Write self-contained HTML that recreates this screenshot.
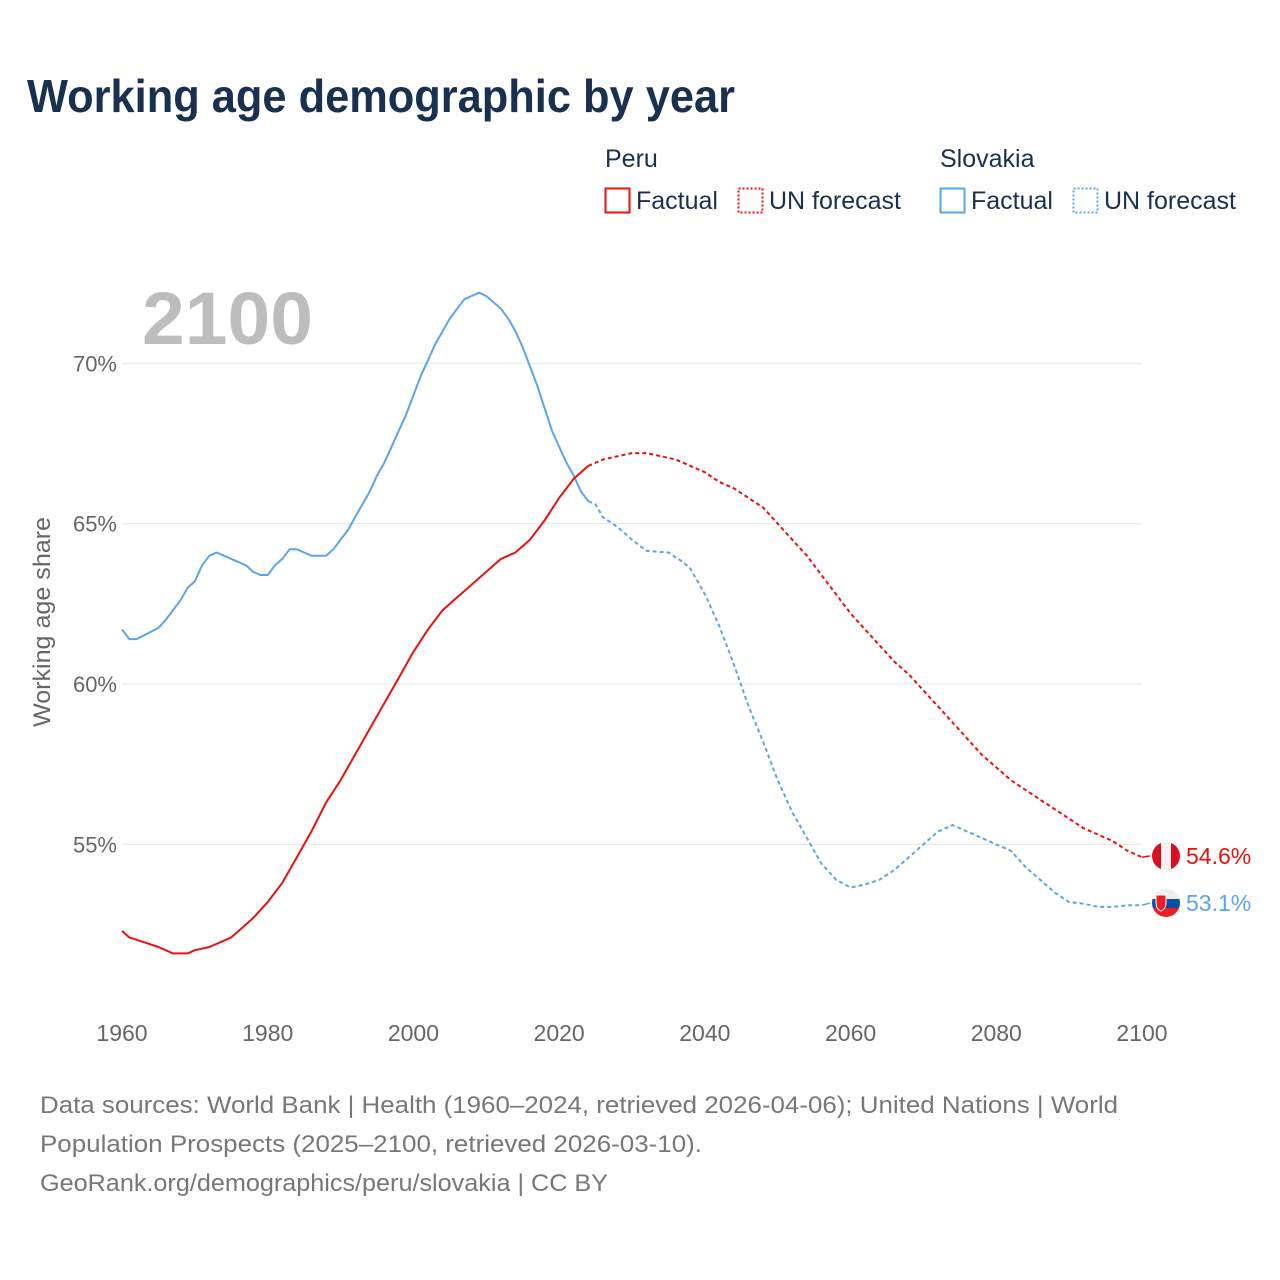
<!DOCTYPE html>
<html><head><meta charset="utf-8">
<style>
body{margin:0;background:#fff;font-family:"Liberation Sans",sans-serif;}
#wrap{position:relative;width:1280px;height:1280px;overflow:hidden;}
</style></head>
<body>
<div id="wrap">
<svg id="chart" width="1280" height="1280">
<defs><clipPath id="sc"><circle cx="1166" cy="903" r="14"/></clipPath></defs>
<text x="27" y="112" font-size="46" font-weight="bold" fill="#1a3050" textLength="708" lengthAdjust="spacingAndGlyphs">Working age demographic by year</text>
<g font-size="25" fill="#1a3050">
<text x="605" y="167">Peru</text>
<text x="940" y="167">Slovakia</text>
<g><rect x="605.5" y="188.5" width="24" height="24" fill="none" stroke="#e8110f" stroke-width="2"/><text x="636" y="209">Factual</text></g>
<g><rect x="738.5" y="188.5" width="24" height="24" fill="none" stroke="#e8110f" stroke-width="2" stroke-dasharray="2,2"/><text x="769" y="209">UN forecast</text></g>
<g><rect x="940.5" y="188.5" width="24" height="24" fill="none" stroke="#5ba4e8" stroke-width="2"/><text x="971" y="209">Factual</text></g>
<g><rect x="1073.5" y="188.5" width="24" height="24" fill="none" stroke="#5ba4e8" stroke-width="2" stroke-dasharray="2,2"/><text x="1104" y="209">UN forecast</text></g>
</g>
<text x="142" y="344" font-size="74" font-weight="bold" fill="#bdbdbd" textLength="171" lengthAdjust="spacingAndGlyphs">2100</text>
<g id="grid"></g>
<g id="yticks"></g>
<g id="xticks"></g>
<text transform="translate(50,622) rotate(-90)" text-anchor="middle" font-size="24" fill="#666" textLength="210" lengthAdjust="spacingAndGlyphs">Working age share</text>
<g id="series"></g>
<g font-size="24" fill="#777">
<text x="40" y="1113" textLength="1078" lengthAdjust="spacingAndGlyphs">Data sources: World Bank | Health (1960–2024, retrieved 2026-04-06); United Nations | World</text>
<text x="40" y="1152" textLength="662" lengthAdjust="spacingAndGlyphs">Population Prospects (2025–2100, retrieved 2026-03-10).</text>
<text x="40" y="1191" textLength="568" lengthAdjust="spacingAndGlyphs">GeoRank.org/demographics/peru/slovakia | CC BY</text>
</g>
</svg>
</div>
<script>
const yTicks=[55,60,65,70];
const xTicks=[1960,1980,2000,2020,2040,2060,2080,2100];
const peruFactYears=[1960,1961,1963,1965,1967,1969,1970,1972,1975,1978,1980,1982,1984,1986,1988,1990,1992,1994,1996,1998,2000,2002,2004,2006,2008,2010,2012,2014,2016,2018,2020,2022,2024];
const peruFactVals=[52.3,52.1,51.95,51.8,51.6,51.6,51.7,51.8,52.1,52.7,53.2,53.8,54.6,55.4,56.3,57.0,57.8,58.6,59.4,60.2,61.0,61.7,62.3,62.7,63.1,63.5,63.9,64.1,64.5,65.1,65.8,66.4,66.8];
const peruFcYears=[2024,2026,2028,2030,2032,2034,2036,2038,2040,2042,2044,2046,2048,2050,2052,2054,2056,2058,2060,2062,2064,2066,2068,2070,2072,2074,2076,2078,2080,2082,2084,2086,2088,2090,2092,2094,2096,2098,2100];
const peruFcVals=[66.8,67.0,67.1,67.2,67.2,67.1,67.0,66.8,66.6,66.3,66.1,65.8,65.5,65.0,64.5,64.0,63.4,62.8,62.2,61.7,61.2,60.7,60.3,59.8,59.3,58.8,58.3,57.8,57.4,57.0,56.7,56.4,56.1,55.8,55.5,55.3,55.1,54.8,54.6];
const svkFactYears=[1960,1961,1962,1965,1966,1967,1968,1969,1970,1971,1972,1973,1974,1975,1976,1977,1978,1979,1980,1981,1982,1983,1984,1985,1986,1987,1988,1989,1990,1991,1992,1993,1994,1995,1996,1997,1998,1999,2000,2001,2002,2003,2004,2005,2006,2007,2008,2009,2010,2011,2012,2013,2014,2015,2016,2017,2018,2019,2020,2021,2022,2023,2024];
const svkFactVals=[61.7,61.4,61.4,61.75,62.0,62.3,62.6,63.0,63.2,63.7,64.0,64.1,64.0,63.9,63.8,63.7,63.5,63.4,63.4,63.7,63.9,64.2,64.2,64.1,64.0,64.0,64.0,64.2,64.5,64.8,65.2,65.6,66.0,66.5,66.9,67.4,67.9,68.4,69.0,69.6,70.1,70.6,71.0,71.4,71.7,72.0,72.1,72.2,72.1,71.9,71.7,71.4,71.0,70.5,69.9,69.3,68.6,67.9,67.4,66.9,66.5,66.0,65.7];
const svkFcYears=[2024,2025,2026,2028,2030,2032,2035,2037,2038,2040,2042,2044,2046,2048,2050,2052,2054,2056,2058,2060,2062,2064,2066,2068,2070,2072,2074,2076,2078,2080,2082,2084,2086,2088,2090,2092,2094,2096,2098,2100];
const svkFcVals=[65.7,65.6,65.2,64.9,64.5,64.15,64.1,63.8,63.6,62.8,61.8,60.6,59.3,58.2,57.0,56.0,55.2,54.4,53.9,53.65,53.75,53.9,54.2,54.6,55.0,55.4,55.6,55.4,55.2,55.0,54.8,54.3,53.9,53.5,53.2,53.15,53.05,53.05,53.1,53.1];

const NS="http://www.w3.org/2000/svg";
const X=y=>122+(y-1960)*(1020/140);
const Y=v=>684-(v-60)*32.07;
function mk(tag,attrs,parent){const e=document.createElementNS(NS,tag);for(const k in attrs)e.setAttribute(k,attrs[k]);parent.appendChild(e);return e;}
const grid=document.getElementById('grid'),yt=document.getElementById('yticks'),xt=document.getElementById('xticks'),ser=document.getElementById('series');
yTicks.forEach(v=>{
  const l=mk('line',{x1:122,x2:1142,y1:Y(v),y2:Y(v),stroke:'#e6e6e6','stroke-width':1},grid);
  
  
  const t=mk('text',{x:117,y:Y(v)+8,'text-anchor':'end','font-size':22,fill:'#666'},yt);
  t.textContent=v+'%';
  
  
});
xTicks.forEach(v=>{
  const t=mk('text',{x:X(v),y:1041,'text-anchor':'middle','font-size':23,fill:'#666'},xt);
  t.textContent=v;
  
  
});
function line(ys,vs,color,dash,name){
  const d=ys.map((y,i)=>(i?'L':'M')+X(y).toFixed(1)+','+Y(vs[i]).toFixed(1)).join('');
  const p=mk('path',{d:d,fill:'none',stroke:color,'stroke-width':2,'stroke-linejoin':'round'},ser);
  if(dash)p.setAttribute('stroke-dasharray',dash);
  
  
}
line(svkFactYears,svkFactVals,'#5ba4e8',null,'slovakia-factual-line');
line(svkFcYears,svkFcVals,'#5ba4e8','4,3','slovakia-forecast-line');
line(peruFactYears,peruFactVals,'#e8110f',null,'peru-factual-line');
line(peruFcYears,peruFcVals,'#e8110f','4,3','peru-forecast-line');
const pEnd=peruFcVals[peruFcVals.length-1], sEnd=svkFcVals[svkFcVals.length-1];
const py=856, sy=903;
mk('line',{x1:X(2100),y1:Y(pEnd),x2:1150,y2:py,stroke:'#e8110f','stroke-width':1.5},ser);
mk('line',{x1:X(2100),y1:Y(sEnd),x2:1150,y2:sy,stroke:'#5ba4e8','stroke-width':1.5},ser);
const fp=mk('g',{},ser);


mk('circle',{cx:1166,cy:py,r:14,fill:'#d91023'},fp);
mk('rect',{x:1161,y:py-14,width:10,height:28,fill:'#f2f2f2'},fp);
const fs=mk('g',{'clip-path':'url(#sc)'},ser);


mk('rect',{x:1152,y:sy-14,width:28,height:10,fill:'#eeeeee'},fs);
mk('rect',{x:1152,y:sy-4,width:28,height:9,fill:'#0b4ea2'},fs);
mk('rect',{x:1152,y:sy+5,width:28,height:10,fill:'#ee1c25'},fs);
mk('path',{d:`M1156,${sy-8}h10v8q0,6,-5,8q-5,-2,-5,-8z`,fill:'#ee1c25',stroke:'#fff','stroke-width':1},fs);
const lp=mk('text',{x:1186,y:py+8,'font-size':23,fill:'#e8110f'},ser);
lp.textContent=pEnd.toFixed(1)+'%';


const ls=mk('text',{x:1186,y:sy+8,'font-size':23,fill:'#5ba4e8'},ser);
ls.textContent=sEnd.toFixed(1)+'%';


</script>
</body></html>
